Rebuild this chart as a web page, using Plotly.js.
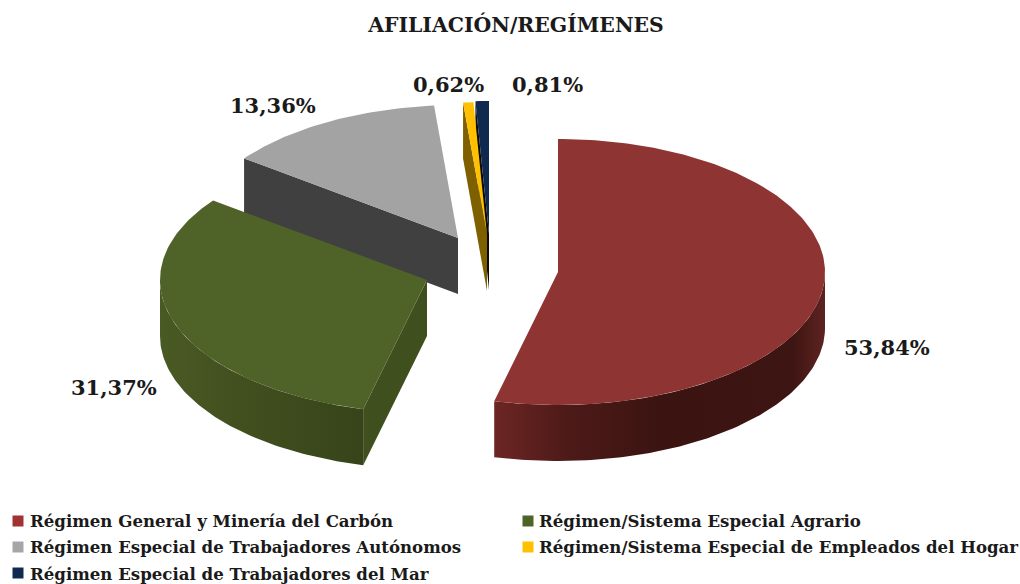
<!DOCTYPE html>
<html>
<head>
<meta charset="utf-8">
<script src="https://cdn.plot.ly/plotly-3.0.1.min.js"></script>
<style>html,body{margin:0;padding:0;background:#fff}#chart{width:1020px;height:584px}</style>
</head>
<body>
<div id="chart"></div>
<script>
const chartTitle = 'AFILIACIÓN/REGÍMENES';
const categories = [
  'Régimen General y Minería del Carbón',
  'Régimen/Sistema Especial Agrario',
  'Régimen Especial de Trabajadores Autónomos',
  'Régimen/Sistema Especial de Empleados del Hogar',
  'Régimen Especial de Trabajadores del Mar'
];
const shares = [53.84, 31.37, 13.36, 0.62, 0.81];
const topColors = ['#8e3533', '#4f6228', '#a3a3a3', '#ffc000', '#10294f'];
const legendColors = ['#a03331', '#4f6228', '#a6a6a6', '#ffc000', '#10294f'];
const cutColors = [null, '#404f1e', '#404040', '#7f6000', '#0a0a0a'];
const apexX = [558, 427, 458, 487, 489];
const apexY = [272, 280, 238, 235, 234];
const labelX = [887, 114, 273, 448, 547];
const labelY = [347, 387, 105, 84, 84];
const swatchX = [18, 528, 18, 528, 18];
const swatchY = [521, 521, 547, 547, 573];
const RX = 267, RY = 133, DEPTH = 56;
const SERIF = '"DejaVu Serif", serif';
const INK = '#1a1a1a';

const total = shares.reduce((a, b) => a + b, 0);
let run = 0;
const slices = shares.map(v => { const s = run; run += v; return {from: s / total * 360, to: run / total * 360}; });

function pt(i, deg, drop) {
  const r = deg * Math.PI / 180;
  return [apexX[i] + RX * Math.sin(r), apexY[i] - RY * Math.cos(r) + (drop || 0)];
}
function arc(i, a, b, drop) {
  const n = Math.max(2, Math.ceil(Math.abs(b - a)));
  const out = [];
  for (let k = 0; k <= n; k++) out.push(pt(i, a + (b - a) * k / n, drop));
  return out;
}
function poly(points, color, gradient) {
  const t = {
    type: 'scatter', mode: 'lines', x: points.map(p => p[0]), y: points.map(p => p[1]),
    fill: 'toself', fillcolor: color, line: {width: 0, color: color},
    showlegend: false, hoverinfo: 'skip'
  };
  if (gradient) t.fillgradient = {type: 'horizontal', colorscale: gradient};
  return t;
}
function apex(i, drop) { return [apexX[i], apexY[i] + (drop || 0)]; }
function topFace(i) { return poly([apex(i)].concat(arc(i, slices[i].from, slices[i].to)).concat([apex(i)]), topColors[i]); }
function cutFace(i, deg) {
  const o = pt(i, deg), od = pt(i, deg, DEPTH);
  return poly([apex(i), o, od, apex(i, DEPTH), apex(i)], cutColors[i]);
}
function outerWall(i, a, b, gradient) {
  const pts = arc(i, a, b).concat(arc(i, b, a, DEPTH));
  pts.push(pts[0]);
  return poly(pts, topColors[i], gradient);
}

const redWall = [[0, '#6c2624'], [0.22, '#4d1a18'], [0.5, '#3b1411'], [0.9, '#3d1512'], [1, '#5e2320']];
const greenWall = [[0, '#4a5a24'], [0.4, '#424f1f'], [1, '#37441a']];

const traces = [
  // back to front: navy, gold, grey, green, red
  cutFace(4, slices[4].from), topFace(4),
  cutFace(3, slices[3].from), topFace(3),
  cutFace(2, slices[2].from), topFace(2),
  cutFace(1, slices[1].from), outerWall(1, slices[1].from, 270, greenWall), topFace(1),
  outerWall(0, 90, slices[0].to, redWall), topFace(0)
];

// legend swatches sit closer to their text than a native legend symbol allows
traces.push({
  type: 'scatter', mode: 'markers', x: swatchX, y: swatchY, showlegend: false, hoverinfo: 'skip',
  marker: {symbol: 'square', size: 11, color: legendColors, line: {width: 0}}
});

const legendOf = ['legend', 'legend2', 'legend', 'legend2', 'legend'];
categories.forEach((name, i) => {
  traces.push({
    type: 'scatter', mode: 'lines', x: [null], y: [null], name: name,
    legend: legendOf[i], legendgroup: 'g' + i, showlegend: true,
    line: {width: 0, color: legendColors[i]}, hoverinfo: 'skip'
  });
});

const legendBase = {
  orientation: 'v', traceorder: 'grouped', tracegroupgap: 2, indentation: -15,
  bgcolor: 'rgba(0,0,0,0)', borderwidth: 0,
  font: {family: SERIF, size: 16.6, color: INK, weight: 700},
  xref: 'paper', yref: 'paper', xanchor: 'left', yanchor: 'top'
};

const layout = {
  width: 1020, height: 584,
  margin: {l: 0, r: 0, t: 0, b: 0, autoexpand: false},
  paper_bgcolor: '#ffffff', plot_bgcolor: '#ffffff',
  title: {text: chartTitle, x: 516 / 1020, xref: 'paper', xanchor: 'center', y: 1 - 25 / 584, yref: 'paper', yanchor: 'middle',
    font: {family: SERIF, size: 20.4, color: INK, weight: 700}},
  xaxis: {range: [0, 1020], visible: false, fixedrange: true},
  yaxis: {range: [584, 0], visible: false, fixedrange: true},
  showlegend: true,
  legend: Object.assign({}, legendBase, {x: 5 / 1020, y: 1 - 503 / 584}),
  legend2: Object.assign({}, legendBase, {x: 514 / 1020, y: 1 - 503 / 584}),
  annotations: shares.map((v, i) => ({
    xref: 'x', yref: 'y', x: labelX[i], y: labelY[i], showarrow: false,
    xanchor: 'center', yanchor: 'middle',
    text: v.toFixed(2).replace('.', ',') + '%',
    font: {family: SERIF, size: 21, color: INK, weight: 700}
  }))
};

Plotly.newPlot('chart', traces, layout, {displayModeBar: false});
</script>
</body>
</html>
